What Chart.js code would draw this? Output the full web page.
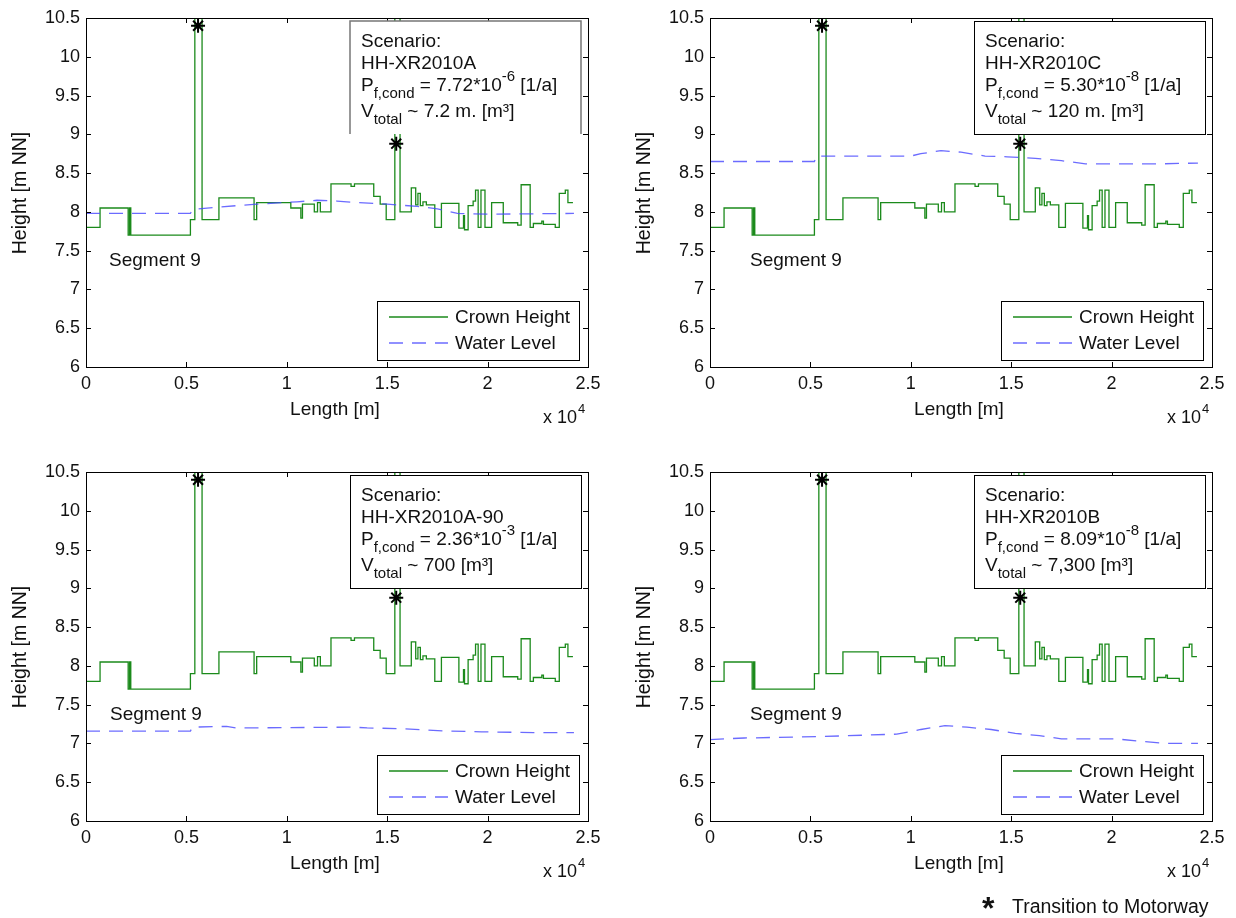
<!DOCTYPE html>
<html>
<head>
<meta charset="utf-8">
<script src="https://cdn.jsdelivr.net/npm/chart.js@4.4.1/dist/chart.umd.min.js"></script>
<style>
  body { margin: 0; background: #fff; width: 1236px; height: 918px; position: relative; overflow: hidden;
         font-family: "Liberation Sans", Arial, sans-serif; color: #111; }
  canvas { position: absolute; }
  .star { position: absolute; left: 982px; top: 892px; font-size: 32px; line-height: 32px; font-weight: bold; }
  .note { position: absolute; left: 1012px; top: 896px; font-size: 19.5px; line-height: 20px; }
</style>
</head>
<body>
<canvas id="c0" width="612" height="450" style="left:0px;top:0px"></canvas>
<canvas id="c1" width="612" height="450" style="left:624px;top:0px"></canvas>
<canvas id="c2" width="612" height="450" style="left:0px;top:454px"></canvas>
<canvas id="c3" width="612" height="450" style="left:624px;top:454px"></canvas>
<div class="star">*</div>
<div class="note">Transition to Motorway</div>
<script>
// crown height profile (same for all scenarios): [length m, height m NN], step starts
const crownHeight = [
  [0, 7.80], [700, 8.05], [2100, 7.70], [2170, 8.05], [2230, 7.70], [5200, 7.90], [5420, 11.0], [5780, 7.90],
  [6620, 8.18], [8370, 7.90], [8500, 8.12], [10200, 8.05], [10700, 7.92], [10780, 8.10], [11370, 8.00],
  [11530, 8.12], [11670, 8.00], [12200, 8.36], [13200, 8.33], [13370, 8.36], [14330, 8.20], [14650, 8.10],
  [14950, 7.90], [15380, 11.0], [15640, 8.00], [16200, 8.31], [16420, 8.09], [16530, 8.24], [16650, 8.08],
  [16780, 8.13], [16950, 8.09], [17370, 7.80], [17700, 8.11], [18570, 7.79], [18800, 7.95], [18850, 7.77],
  [19030, 8.08], [19280, 8.14], [19400, 8.28], [19530, 7.80], [19670, 8.28], [19870, 7.80], [20200, 8.12],
  [20780, 7.86], [21500, 7.83], [21670, 8.35], [22120, 7.80], [22280, 7.85], [22700, 7.88], [22780, 7.84],
  [23370, 7.80], [23570, 8.24], [23870, 8.28], [24000, 8.12], [24250, 8.12]
];

// water levels per scenario
const waterA = [[0, 7.98], [5200, 7.98], [5300, 8.03], [6500, 8.06], [8500, 8.10], [10500, 8.13], [11500, 8.15],
  [12500, 8.14], [13500, 8.12], [15000, 8.10], [16500, 8.07], [17500, 8.04], [18500, 7.98], [20000, 7.97], [24300, 7.98]];
const waterC = [[0, 8.65], [5200, 8.65], [5300, 8.72], [10000, 8.72], [10500, 8.75], [11500, 8.79], [12500, 8.77],
  [13700, 8.72], [14800, 8.71], [16200, 8.69], [17500, 8.66], [18700, 8.62], [20300, 8.62], [22500, 8.62], [24300, 8.63]];
const waterA90 = [[0, 7.16], [5200, 7.16], [5300, 7.21], [7000, 7.22], [7500, 7.20], [13300, 7.21], [14000, 7.20],
  [15800, 7.19], [17900, 7.16], [19700, 7.15], [22300, 7.14], [24300, 7.14]];
const waterB = [[0, 7.05], [1700, 7.07], [5700, 7.09], [9300, 7.12], [10500, 7.18], [11700, 7.23], [12800, 7.21],
  [14000, 7.18], [15200, 7.13], [16400, 7.10], [17500, 7.06], [20200, 7.06], [21300, 7.03], [22800, 7.00], [24300, 7.00]];

// transitions to motorway
const transitions = [[5580, 10.4], [15450, 8.88]];

// scenario texts
const scenarios = ['HH-XR2010A', 'HH-XR2010C', 'HH-XR2010A-90', 'HH-XR2010B'];
const pfMantissa = ['7.72', '5.30', '2.36', '8.09'];
const pfExponent = ['-6', '-8', '-3', '-8'];
const volumes = ['7.2 m.', '120 m.', '700', '7,300'];
const waterLevels = [waterA, waterC, waterA90, waterB];

const xTicks = [0, 5000, 10000, 15000, 20000, 25000];
const yTicks = [6, 6.5, 7, 7.5, 8, 8.5, 9, 9.5, 10, 10.5];

const FONT = '"Liberation Sans", Arial, sans-serif';
const crownColor = '#1b8a1b';
const waterColor = 'rgba(70, 70, 255, 0.8)';
const segmentX = [109, 126, 110, 126];

function toXY(arr) {
  return arr.map(p => ({ x: p[0], y: p[1] }));
}

function richLine(ctx, x, y, parts) {
  parts.forEach(([t, k]) => {
    ctx.font = (k === 'n' ? '19px ' : '15px ') + FONT;
    const dy = k === 'sub' ? 8 : (k === 'sup' ? -9 : 0);
    ctx.fillText(t, x, y + dy);
    x += ctx.measureText(t).width;
  });
}

const decor = {
  id: 'decor',
  afterDatasetsDraw(chart, args, opts) {
    const i = opts.index;
    const ctx = chart.ctx;
    const a = chart.chartArea;
    const xs = chart.scales.x, ys = chart.scales.y;
    ctx.save();

    // frame + inward ticks
    ctx.strokeStyle = '#000';
    ctx.lineWidth = 1;
    ctx.strokeRect(a.left + 0.5, a.top + 0.5, a.right - a.left, a.bottom - a.top);
    ctx.beginPath();
    xTicks.forEach(v => {
      const px = Math.round(xs.getPixelForValue(v)) + 0.5;
      ctx.moveTo(px, a.bottom); ctx.lineTo(px, a.bottom - 5);
      ctx.moveTo(px, a.top); ctx.lineTo(px, a.top + 5);
    });
    yTicks.forEach(v => {
      const py = Math.round(ys.getPixelForValue(v)) + 0.5;
      ctx.moveTo(a.left, py); ctx.lineTo(a.left + 5, py);
      ctx.moveTo(a.right, py); ctx.lineTo(a.right - 5, py);
    });
    ctx.stroke();

    // scenario box
    const bx = 350, by = 21, bw = 231, bh = 113;
    ctx.fillStyle = '#fff';
    ctx.fillRect(bx, by, bw, bh);
    if (i === 0) {
      ctx.strokeStyle = '#777';
      ctx.lineWidth = 1.5;
      ctx.beginPath();
      ctx.moveTo(bx, by + bh); ctx.lineTo(bx, by); ctx.lineTo(bx + bw, by); ctx.lineTo(bx + bw, by + bh);
      ctx.stroke();
    } else {
      ctx.strokeStyle = '#000';
      ctx.lineWidth = 1;
      ctx.strokeRect(bx + 0.5, by + 0.5, bw, bh);
    }
    ctx.fillStyle = '#111';
    ctx.textBaseline = 'middle';
    ctx.textAlign = 'left';
    const tx = 361;
    richLine(ctx, tx, 42, [['Scenario:', 'n']]);
    richLine(ctx, tx, 64, [[scenarios[i], 'n']]);
    richLine(ctx, tx, 86, [['P', 'n'], ['f,cond', 'sub'], [' = ' + pfMantissa[i] + '*10', 'n'], [pfExponent[i], 'sup'], [' [1/a]', 'n']]);
    richLine(ctx, tx, 112, [['V', 'n'], ['total', 'sub'], [' ~ ' + volumes[i] + ' [m\u00B3]', 'n']]);

    // legend box
    const lx = 377, ly = 301, lw = 202, lh = 59;
    ctx.fillStyle = '#fff';
    ctx.fillRect(lx, ly, lw, lh);
    ctx.strokeStyle = '#000';
    ctx.lineWidth = 1;
    ctx.strokeRect(lx + 0.5, ly + 0.5, lw, lh);
    ctx.lineWidth = 1.3;
    ctx.strokeStyle = crownColor;
    ctx.beginPath(); ctx.moveTo(389, 317); ctx.lineTo(448, 317); ctx.stroke();
    ctx.strokeStyle = waterColor;
    ctx.setLineDash([14, 9]);
    ctx.beginPath(); ctx.moveTo(389, 343); ctx.lineTo(448, 343); ctx.stroke();
    ctx.setLineDash([]);
    ctx.fillStyle = '#111';
    ctx.font = '19px ' + FONT;
    ctx.fillText('Crown Height', 455, 318);
    ctx.fillText('Water Level', 455, 344);

    // other labels
    ctx.font = '19px ' + FONT;
    ctx.fillText('Segment 9', segmentX[i], 261);
    ctx.textAlign = 'center';
    ctx.fillText('Length [m]', 335, 410);
    ctx.textAlign = 'left';
    ctx.font = '18px ' + FONT;
    ctx.fillText('x 10', 543, 418);
    const w10 = ctx.measureText('x 10').width;
    ctx.font = '13px ' + FONT;
    ctx.fillText('4', 543 + w10 + 1, 409);
    ctx.font = '19.5px ' + FONT;
    ctx.translate(21, 193);
    ctx.rotate(-Math.PI / 2);
    ctx.textAlign = 'center';
    ctx.fillText('Height [m NN]', 0, 0);
    ctx.restore();
  }
};

function drawPanel(i) {
  const ctx = document.getElementById('c' + i).getContext('2d');
  const tickFont = { family: FONT, size: 18 };
  new Chart(ctx, {
    type: 'line',
    data: {
      datasets: [
        {
          label: 'Transition to Motorway',
          type: 'scatter',
          data: toXY(transitions),
          pointStyle: 'star',
          pointRadius: 7,
          borderColor: '#000',
          borderWidth: 2,
          showLine: false,
          order: 0
        },
        {
          label: 'Water Level',
          data: toXY(waterLevels[i]),
          borderColor: waterColor,
          borderWidth: 1.3,
          borderDash: [14, 9],
          pointRadius: 0,
          fill: false,
          order: 1
        },
        {
          label: 'Crown Height',
          data: toXY(crownHeight),
          stepped: 'before',
          borderColor: crownColor,
          borderWidth: 1.3,
          pointRadius: 0,
          fill: false,
          order: 2
        }
      ]
    },
    options: {
      responsive: false,
      animation: false,
      events: [],
      layout: { padding: { top: 18, right: 24, left: 0, bottom: 0 } },
      plugins: {
        legend: { display: false },
        tooltip: { enabled: false },
        decor: { index: i }
      },
      scales: {
        x: {
          type: 'linear',
          min: 0,
          max: 25000,
          afterBuildTicks: s => { s.ticks = xTicks.map(v => ({ value: v })); },
          afterFit: s => { s.height = 83; },
          ticks: { callback: v => String(v / 10000), font: tickFont, color: '#111', padding: 6, autoSkip: false, maxRotation: 0 },
          grid: { display: false, drawTicks: false },
          border: { display: false }
        },
        y: {
          type: 'linear',
          min: 6,
          max: 10.5,
          afterBuildTicks: s => { s.ticks = yTicks.map(v => ({ value: v })); },
          afterFit: s => { s.width = 86; },
          ticks: { callback: v => String(v), font: tickFont, color: '#111', padding: 6, autoSkip: false },
          grid: { display: false, drawTicks: false },
          border: { display: false }
        }
      }
    },
    plugins: [decor]
  });
}

document.addEventListener('DOMContentLoaded', () => {
  [0, 1, 2, 3].forEach(drawPanel);
});
</script>
</body>
</html>
